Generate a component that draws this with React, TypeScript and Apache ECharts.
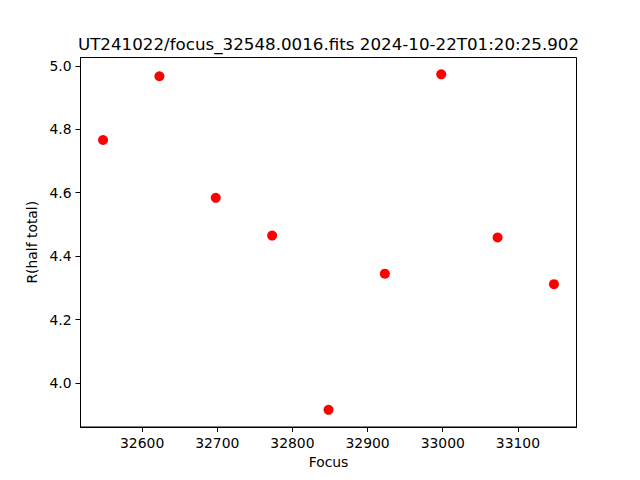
import React, { useEffect, useRef } from "react";
import * as echarts from "echarts";

const titleText = "UT241022/focus_32548.0016.fits 2024-10-22T01:20:25.902";
const focusValues = [32548, 32623, 32698, 32773, 32848, 32923, 32998, 33073, 33148];
const radiusValues = [4.766, 4.967, 4.584, 4.465, 3.916, 4.345, 4.973, 4.459, 4.312];
const xTicks = [32600, 32700, 32800, 32900, 33000, 33100];
const yTicks = [4.0, 4.2, 4.4, 4.6, 4.8, 5.0];

export default function App() {
  const ref = useRef<HTMLDivElement>(null);
  useEffect(() => {
    if (!ref.current) return;
    const chart = echarts.init(ref.current, null, { renderer: "svg" });
    const font = "DejaVu Sans";
    chart.setOption({
      animation: false,
      backgroundColor: "#ffffff",
      textStyle: { fontFamily: font },
      grid: {
        left: 80.5,
        right: 63.5,
        top: 57.5,
        bottom: 53,
        show: true,
        borderColor: "#000000",
        borderWidth: 1,
        backgroundColor: "transparent",
      },
      graphic: [
        {
          type: "text",
          x: 328.5,
          y: 44,
          style: {
            text: titleText,
            fontFamily: font,
            fontSize: 16.7,
            fill: "#000000",
            textAlign: "center",
            textVerticalAlign: "middle",
          },
        },
      ],
      xAxis: {
        type: "value",
        min: 32518,
        max: 33178,
        name: "Focus",
        nameLocation: "middle",
        nameGap: 26,
        nameTextStyle: { fontFamily: font, fontSize: 13.9, color: "#000000" },
        axisLine: { show: true, onZero: false, lineStyle: { color: "#000000", width: 1 } },
        axisTick: {
          show: true,
          inside: false,
          length: 5,
          customValues: xTicks,
          lineStyle: { color: "#000000", width: 1 },
        },
        axisLabel: {
          show: true,
          margin: 9,
          customValues: xTicks,
          fontFamily: font,
          fontSize: 13.9,
          color: "#000000",
          formatter: (v: number) => String(v),
        },
        splitLine: { show: false },
      },
      yAxis: {
        type: "value",
        min: 3.862,
        max: 5.026,
        name: "R(half total)",
        nameLocation: "middle",
        nameGap: 35,
        nameRotate: 90,
        nameTextStyle: { fontFamily: font, fontSize: 13.9, color: "#000000" },
        axisLine: { show: true, onZero: false, lineStyle: { color: "#000000", width: 1 } },
        axisTick: {
          show: true,
          inside: false,
          length: 5,
          customValues: yTicks,
          lineStyle: { color: "#000000", width: 1 },
        },
        axisLabel: {
          show: true,
          margin: 9,
          customValues: yTicks,
          fontFamily: font,
          fontSize: 13.9,
          color: "#000000",
          formatter: (v: number) => v.toFixed(1),
        },
        splitLine: { show: false },
      },
      series: [
        {
          type: "scatter",
          data: focusValues.map((f, i) => [f, radiusValues[i]]),
          symbol: "circle",
          symbolSize: 10,
          itemStyle: { color: "#ff0000", opacity: 1 },
        },
      ],
    });
    return () => chart.dispose();
  }, []);
  return (
    <div
      ref={ref}
      style={{ position: "fixed", left: 0, top: 0, width: 640, height: 480, background: "#fff" }}
    />
  );
}
